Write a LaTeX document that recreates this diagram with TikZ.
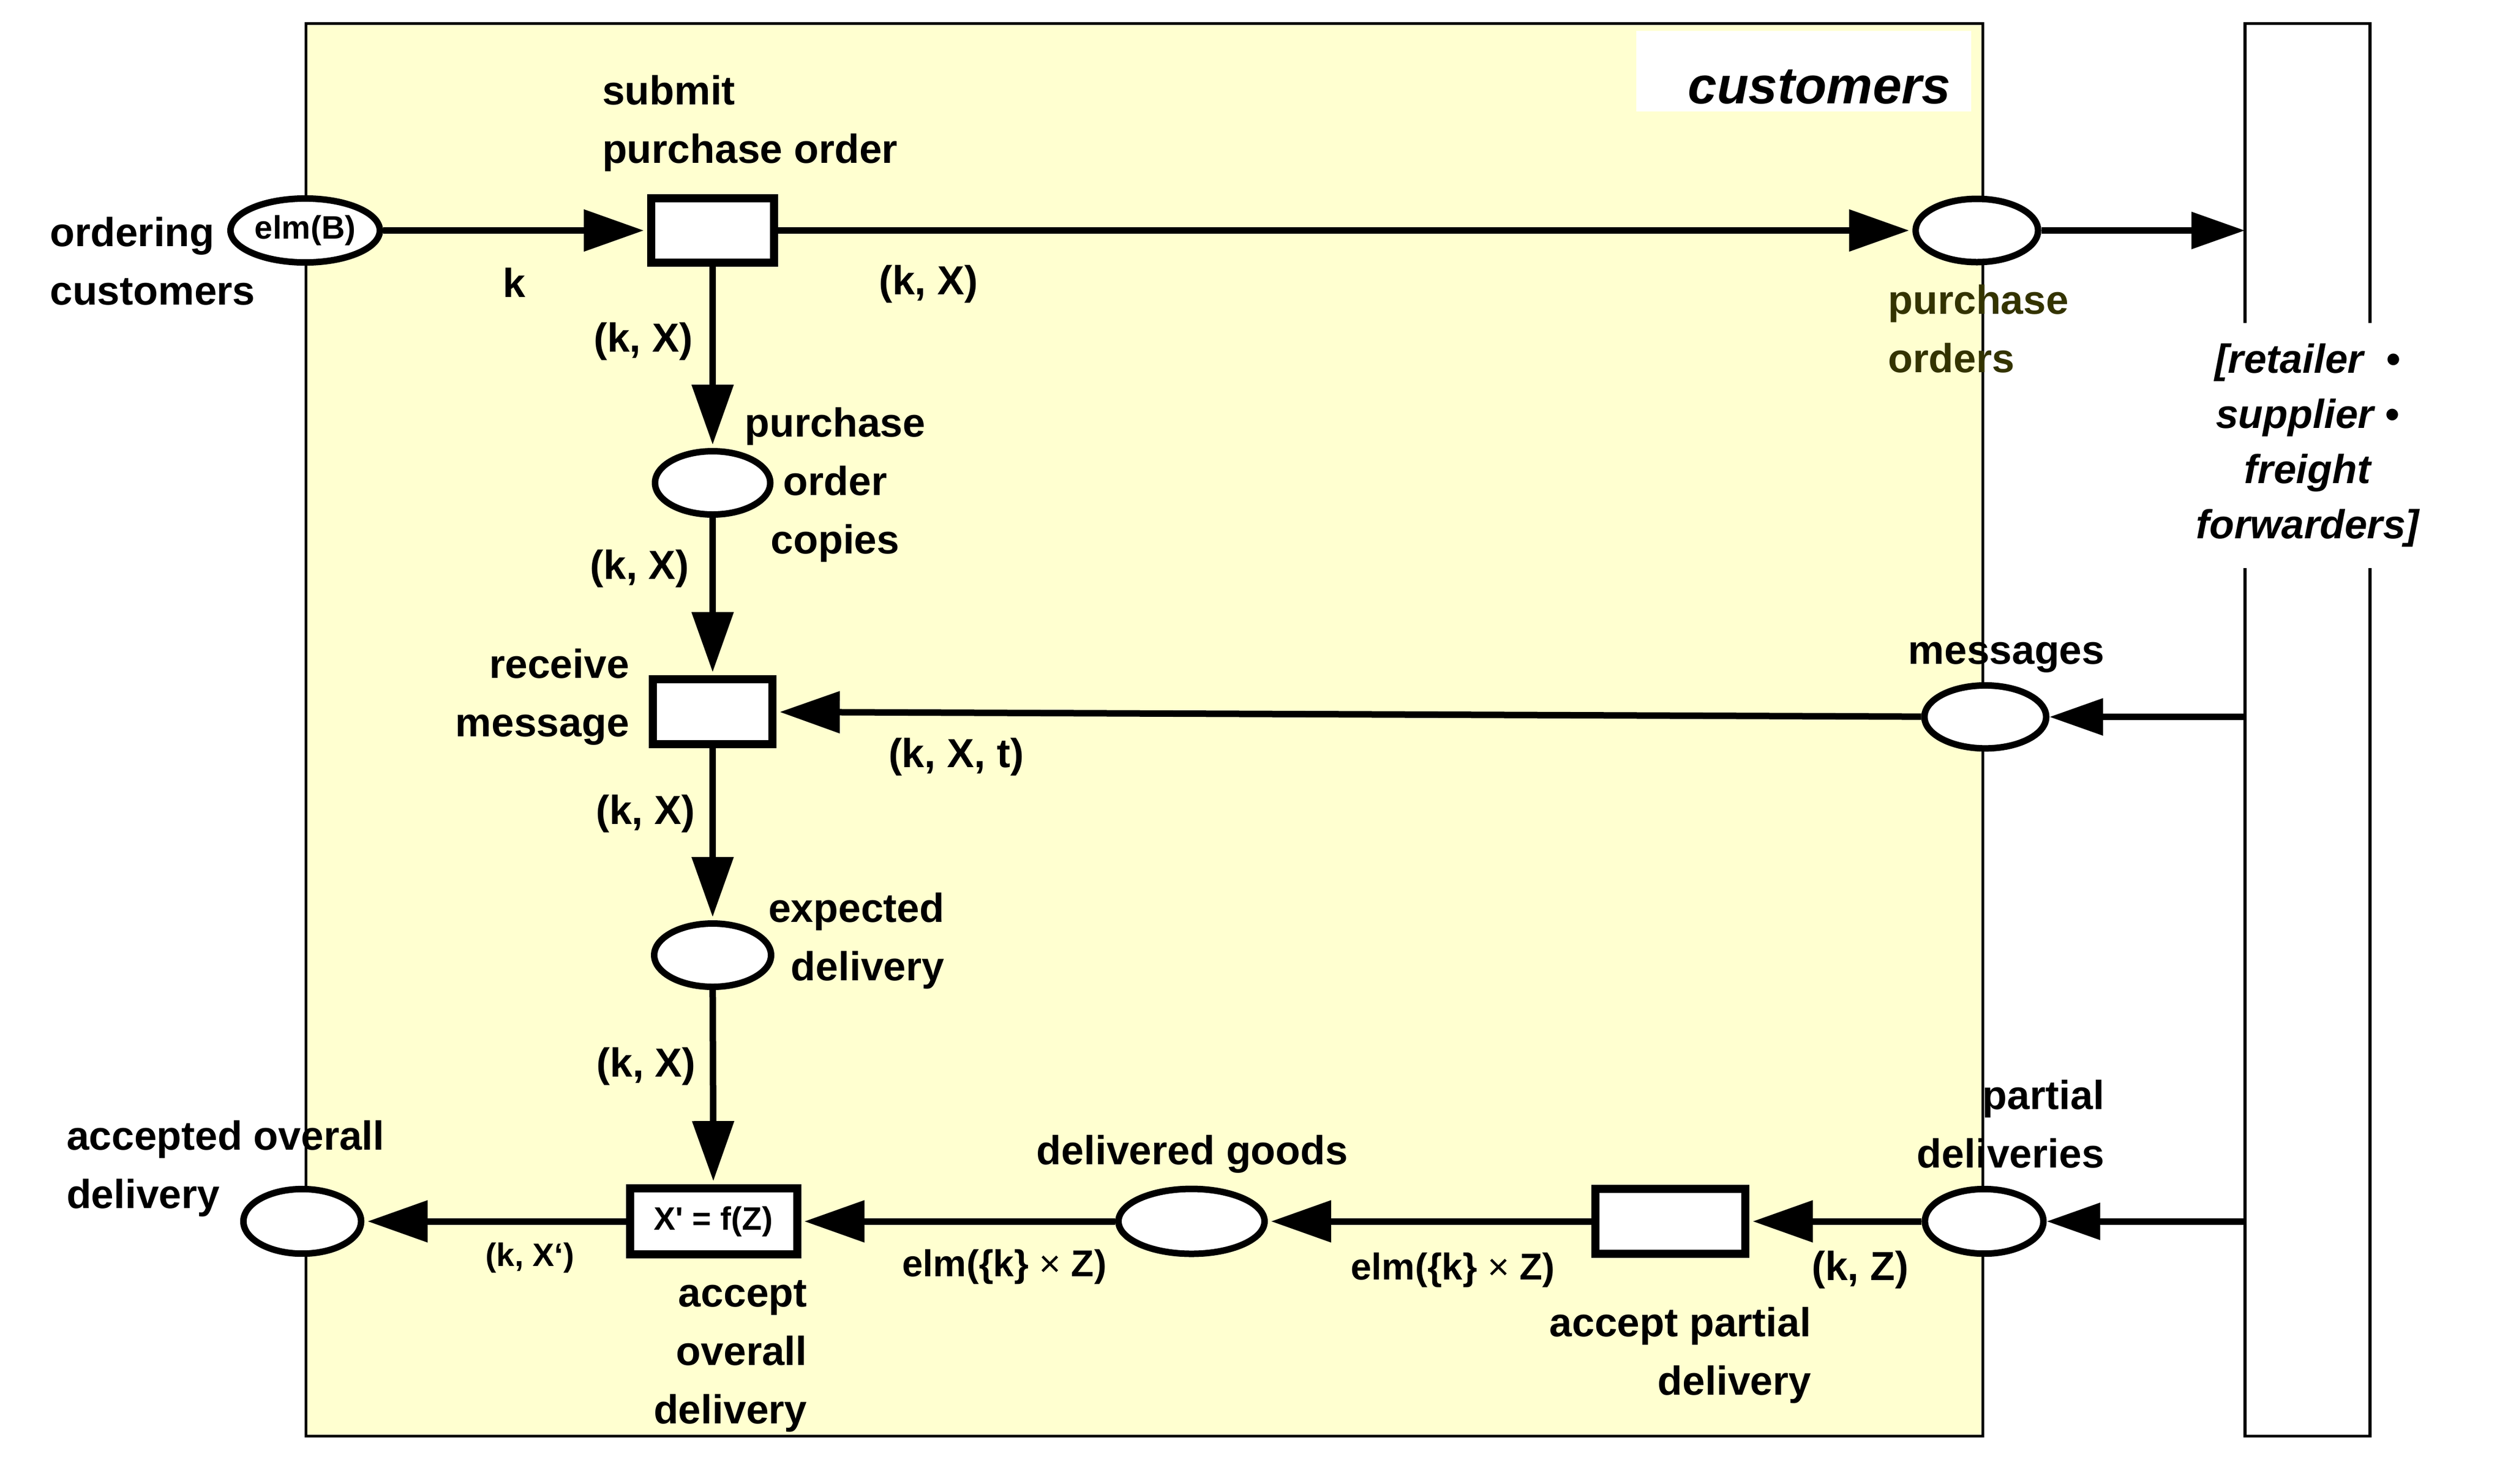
\documentclass[tikz,border=0pt]{standalone}
\usepackage{fontspec}
\newfontfamily\lsans{Liberation Sans}
\usetikzlibrary{arrows.meta,shapes.geometric}
\definecolor{paleyellow}{RGB}{255,255,208}
\definecolor{olivetext}{RGB}{51,51,0}
\tikzset{
  lbl/.style={font=\lsans\bfseries\fontsize{25}{36}\selectfont, inner sep=0pt},
  smalllbl/.style={font=\lsans\bfseries\fontsize{20}{24}\selectfont, inner sep=0pt},
  elmlbl/.style={font=\lsans\bfseries\fontsize{23}{28}\selectfont, inner sep=0pt},
  place/.style={ellipse, draw, line width=4pt, fill=white, inner sep=0pt},
  trans/.style={rectangle, draw, line width=5pt, fill=white, inner sep=0pt},
  arc/.style={line width=4pt, -{Triangle[length=37pt,width=25pt]}, shorten >=2pt},
  arcsmall/.style={line width=4pt, -{Triangle[length=33pt,width=22pt]}},
  frame/.style={line width=1.8pt}
}
\begin{document}
\begin{tikzpicture}[x=1pt,y=-1pt]
\useasboundingbox (0,0) rectangle (1545,914);
% boxes
\draw[frame, fill=paleyellow] (188.4,14.5) rectangle (1221.5,884.8);
\draw[frame, fill=white] (1383,14.5) rectangle (1460,884.8);
\node[fill=white, draw=none, inner sep=0pt, minimum width=206.4pt, minimum height=49.5pt] (custbox) at (1111.2,43.85) {};
\node[font=\lsans\bfseries\itshape\fontsize{32}{40}\selectfont, anchor=base east, inner sep=0pt] (custlbl) at (1202,63.8) {customers};
\node[font=\lsans\bfseries\itshape\fontsize{25}{34}\selectfont, align=center, fill=white, inner xsep=2pt, inner ysep=13pt] (rbtext) at (1421.5,274.5) {[retailer\ \ •\\supplier •\\freight\\forwarders]};
\coordinate (rb1) at (1383,142);
\coordinate (rb2) at (1383,441.7);
\coordinate (rb3) at (1383,752.5);
% places and transitions
\node[place, minimum width=92pt, minimum height=39.4pt, font=\lsans\bfseries\fontsize{20}{24}\selectfont] (ordcust) at (188,142) {elm(B)};
\node[trans, minimum width=75.7pt, minimum height=39.5pt] (submit) at (439,142) {};
\node[place, minimum width=75.4pt, minimum height=39pt] (po) at (1217.8,142) {};
\node[place, minimum width=71pt, minimum height=39pt] (poc) at (439,297.5) {};
\node[trans, minimum width=73.6pt, minimum height=39.7pt] (recv) at (439,438.5) {};
\node[place, minimum width=75pt, minimum height=38.8pt] (msg) at (1223,441.7) {};
\node[place, minimum width=72pt, minimum height=39pt] (exp) at (439,588.5) {};
\node[trans, minimum width=103pt, minimum height=40.6pt, font=\lsans\bfseries\fontsize{20}{24}\selectfont] (accov) at (439.5,752.5) {X' = f(Z)};
\node[place, minimum width=72.5pt, minimum height=39.8pt] (accd) at (186.2,752.5) {};
\node[place, minimum width=90pt, minimum height=40pt] (dg) at (734,752.5) {};
\node[trans, minimum width=92.5pt, minimum height=39.7pt] (accp) at (1029,752.5) {};
\node[place, minimum width=73pt, minimum height=39.8pt] (pd) at (1222.3,752.5) {};
% arcs
\draw[arc] (ordcust) -- (submit);
\draw[arc] (submit) -- (po);
\draw[arcsmall] (po) -- (rb1);
\draw[arc] (submit) -- (poc);
\draw[arc] (poc) -- (recv);
\draw[arcsmall] (rb2) -- (msg);
\draw[arc] (msg) -- (recv);
\draw[arc] (recv) -- (exp);
\draw[arc] (exp) -- (accov);
\draw[arcsmall] (rb3) -- (pd);
\draw[arc] (pd) -- (accp);
\draw[arc] (accp) -- (dg);
\draw[arc] (dg) -- (accov);
\draw[arc] (accov) -- (accd);
% labels
\node[lbl, align=left, anchor=west] (lsubmit) at (370.8,76) {submit\\purchase order};
\node[lbl, align=left, anchor=west] (lordcust) at (30.6,160.75) {ordering\\customers};
\node[lbl] (lk) at (316.8,174.2) {k};
\node[lbl] (lkx1) at (571.9,175) {(k, X)};
\node[lbl] (lkx2) at (396.3,210.4) {(k, X)};
\node[lbl, align=center] (lpoc) at (514.5,298.8) {purchase\\order\\copies};
\node[lbl] (lkx3) at (394,350.5) {(k, X)};
\node[lbl, align=right, anchor=east] (lrecv) at (387.8,429.5) {receive\\message};
\node[lbl] (lkxt) at (589,466.2) {(k, X, t)};
\node[lbl] (lkx4) at (397.6,501.5) {(k, X)};
\node[lbl, align=right, anchor=east] (lexp) at (582,579.8) {expected\\delivery};
\node[lbl] (lkx5) at (398,657) {(k, X)};
\node[lbl] (lmsg) at (1236,405) {messages};
\node[lbl, align=left, anchor=west, text=olivetext] (lpo) at (1163,202.5) {purchase\\orders};
\node[lbl, align=right, anchor=east] (lpd) at (1296.5,692.4) {partial\\deliveries};
\node[lbl, align=left, anchor=west] (laccd) at (40.8,720) {accepted overall\\delivery};
\node[smalllbl] (lkxp) at (326.5,775) {(k, X‘)};
\node[lbl, align=right, anchor=east] (laccov) at (497.4,835.5) {accept\\overall\\delivery};
\node[lbl] (ldg) at (734.5,711) {delivered goods};
\node[elmlbl] (lelm1) at (618.7,780.5) {elm(\{k\} {\mdseries ×} Z)};
\node[elmlbl] (lelm2) at (895,782.5) {elm(\{k\} {\mdseries ×} Z)};
\node[lbl] (lkz) at (1145.9,782.5) {(k, Z)};
\node[lbl, align=right, anchor=east] (laccp) at (1116,835) {accept partial\\delivery};
\end{tikzpicture}
\end{document}
